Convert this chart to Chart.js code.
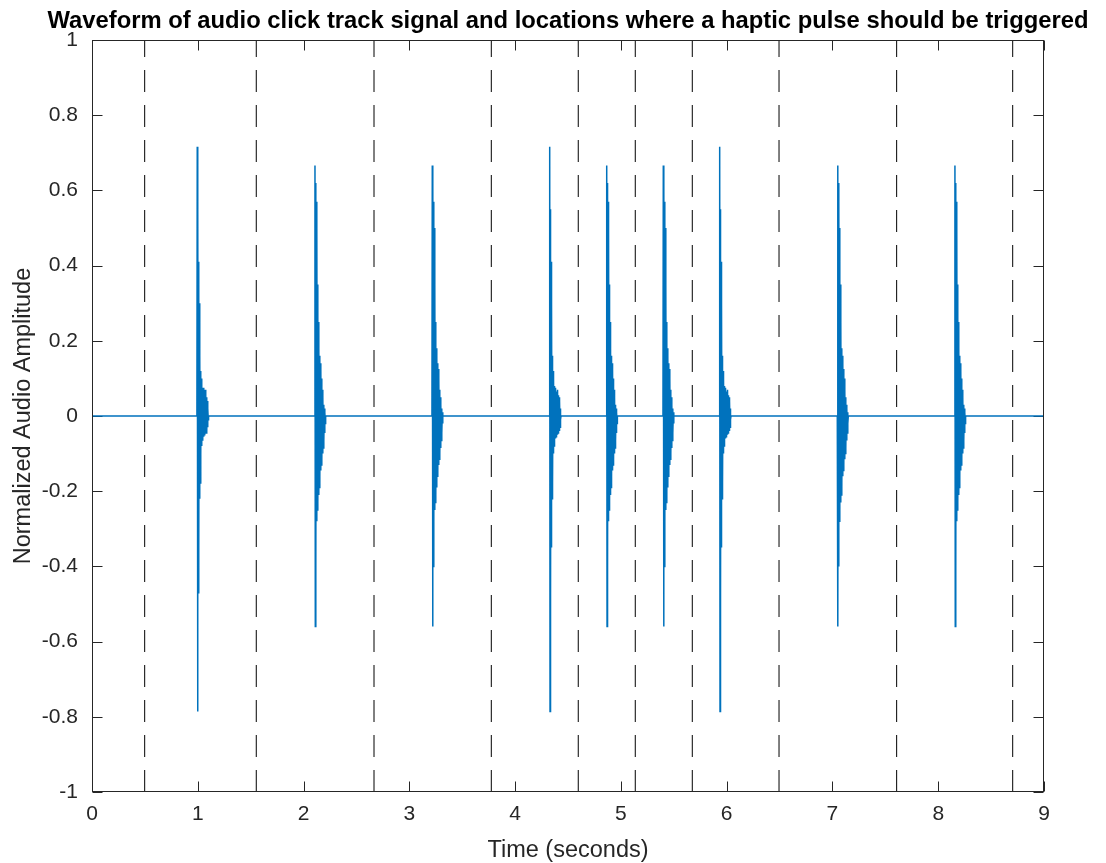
<!DOCTYPE html>
<html>
<head>
<meta charset="utf-8">
<script src="https://cdn.jsdelivr.net/npm/chart.js@4.4.1/dist/chart.umd.min.js"></script>
<style>
  html, body { margin: 0; padding: 0; background: #fff; }
  #wrap { width: 1106px; height: 863px; }
</style>
</head>
<body>
<div id="wrap"><canvas id="c" width="1106" height="863"></canvas></div>
<script>
// ---------- data ----------
const xTickValues = [0, 1, 2, 3, 4, 5, 6, 7, 8, 9];
const yTickValues = [-1, -0.8, -0.6, -0.4, -0.2, 0, 0.2, 0.4, 0.6, 0.8, 1];

// click onsets (s) and which click shape each one has
const clickOnsets = [0.995, 2.108, 3.217, 4.327, 4.866, 5.401, 5.934, 7.049, 8.158];
const clickKinds  = ['A', 'B', 'B', 'A', 'B', 'B', 'A', 'B', 'B'];

// haptic trigger locations (s), dashed lines
const hapticTimes = [0.498, 1.553, 2.666, 3.775, 4.597, 5.136, 5.675, 6.495, 7.607, 8.704];

// audio sample interval of the estimated click samples (s)
const sampleStep = 0.00315;

// estimated samples of the two click shapes
const clickA = [0.716, -0.786, 0.55, -0.47, 0.41, -0.35, 0.30, -0.22, 0.16, -0.178,
  0.12, -0.10, 0.10, -0.08, 0.08, -0.064, 0.07, -0.06, 0.075, -0.055,
  0.065, -0.05, 0.06, -0.05, 0.07, -0.045, 0.055, -0.045, 0.05, -0.04,
  0.04, -0.03, 0.02, -0.01, 0];
const clickB = [0.666, -0.56, 0.62, -0.40, 0.57, -0.28, 0.50, -0.25, 0.35, -0.23,
  0.25, -0.21, 0.18, -0.19, 0.16, -0.16, 0.14, -0.145, 0.125, -0.13,
  0.10, -0.115, 0.07, -0.10, 0.05, -0.085, 0.03, -0.065, 0.02, -0.045,
  0.01, -0.02, 0];

const timeRange = [0, 9];
const ampRange = [-1, 1];

// ---------- build datasets ----------
const shapes = { A: clickA, B: clickB };
const wave = [{ x: timeRange[0], y: 0 }];
clickOnsets.forEach((t0, k) => {
  const s = shapes[clickKinds[k]];
  wave.push({ x: t0 - sampleStep, y: 0 });
  s.forEach((v, i) => wave.push({ x: t0 + i * sampleStep, y: v }));
});
wave.push({ x: timeRange[1], y: 0 });

const datasets = [{
  data: wave,
  borderColor: '#0072BD',
  borderWidth: 1.5,
  pointRadius: 0,
  tension: 0,
  order: 1
}];
hapticTimes.forEach(t => {
  datasets.push({
    data: [{ x: t, y: ampRange[0] }, { x: t, y: ampRange[1] }],
    borderColor: '#000000',
    borderWidth: 1,
    borderDash: [22, 13],
    pointRadius: 0,
    order: 2
  });
});

const FONT = "Helvetica, 'Liberation Sans', Arial, sans-serif";
const AXIS_COLOR = '#262626';

function edges(a) {
  return {
    L: Math.round(a.left) + 0.5, R: Math.round(a.right) - 0.5,
    T: Math.round(a.top) + 0.5, B: Math.round(a.bottom) - 0.5
  };
}

const matlabAxes = {
  id: 'matlabAxes',
  beforeDatasetsDraw(chart) {
    const { ctx, chartArea: a, scales } = chart;
    const { L, R, T, B } = edges(a);
    ctx.save();
    ctx.strokeStyle = AXIS_COLOR;
    ctx.lineWidth = 1;
    ctx.beginPath();
    const len = 10;
    xTickValues.forEach(v => {
      const px = Math.round(scales.x.getPixelForValue(v)) + 0.5;
      ctx.moveTo(px, B); ctx.lineTo(px, B - len);
      ctx.moveTo(px, T); ctx.lineTo(px, T + len);
    });
    yTickValues.forEach(v => {
      const py = Math.round(scales.y.getPixelForValue(v)) + 0.5;
      ctx.moveTo(L, py); ctx.lineTo(L + len, py);
      ctx.moveTo(R, py); ctx.lineTo(R - len, py);
    });
    ctx.stroke();
    ctx.restore();
  },
  afterDatasetsDraw(chart) {
    const { ctx, chartArea: a } = chart;
    const { L, R, T, B } = edges(a);
    ctx.save();
    ctx.strokeStyle = AXIS_COLOR;
    ctx.lineWidth = 1;
    ctx.strokeRect(L, T, R - L, B - T);
    // title
    ctx.fillStyle = '#000000';
    ctx.font = "bold 23.8px " + FONT;
    ctx.textAlign = 'center';
    ctx.textBaseline = 'alphabetic';
    ctx.fillText('Waveform of audio click track signal and locations where a haptic pulse should be triggered',
      (a.left + a.right) / 2, 27.5);
    ctx.restore();
  }
};

new Chart(document.getElementById('c'), {
  type: 'line',
  data: { datasets },
  options: {
    responsive: false,
    animation: false,
    devicePixelRatio: 1,
    layout: { padding: { top: 40, right: 62, left: 0, bottom: 0 } },
    plugins: { legend: { display: false }, tooltip: { enabled: false }, title: { display: false } },
    scales: {
      x: {
        type: 'linear',
        min: timeRange[0], max: timeRange[1],
        afterFit: s => { s.height = 71; },
        afterBuildTicks: s => { s.ticks = xTickValues.map(v => ({ value: v })); },
        grid: { display: false, drawTicks: false },
        border: { display: false },
        ticks: { color: AXIS_COLOR, padding: 10, font: { family: FONT, size: 21 }, maxRotation: 0,
                 callback: v => String(v) },
        title: { display: true, text: 'Time (seconds)', color: AXIS_COLOR,
                 font: { family: FONT, size: 23.5, lineHeight: 1.05 }, padding: { top: 0, bottom: 0 } }
      },
      y: {
        type: 'linear',
        min: ampRange[0], max: ampRange[1],
        afterFit: s => { s.width = 92; },
        afterBuildTicks: s => { s.ticks = yTickValues.map(v => ({ value: v })); },
        grid: { display: false, drawTicks: false },
        border: { display: false },
        ticks: { color: AXIS_COLOR, padding: 14, font: { family: FONT, size: 21 },
                 callback: v => String(Math.round(v * 10) / 10) },
        title: { display: true, text: 'Normalized Audio Amplitude', color: AXIS_COLOR,
                 font: { family: FONT, size: 23.5 }, padding: { top: 9, bottom: 0 } }
      }
    }
  },
  plugins: [matlabAxes]
});
</script>
</body>
</html>
